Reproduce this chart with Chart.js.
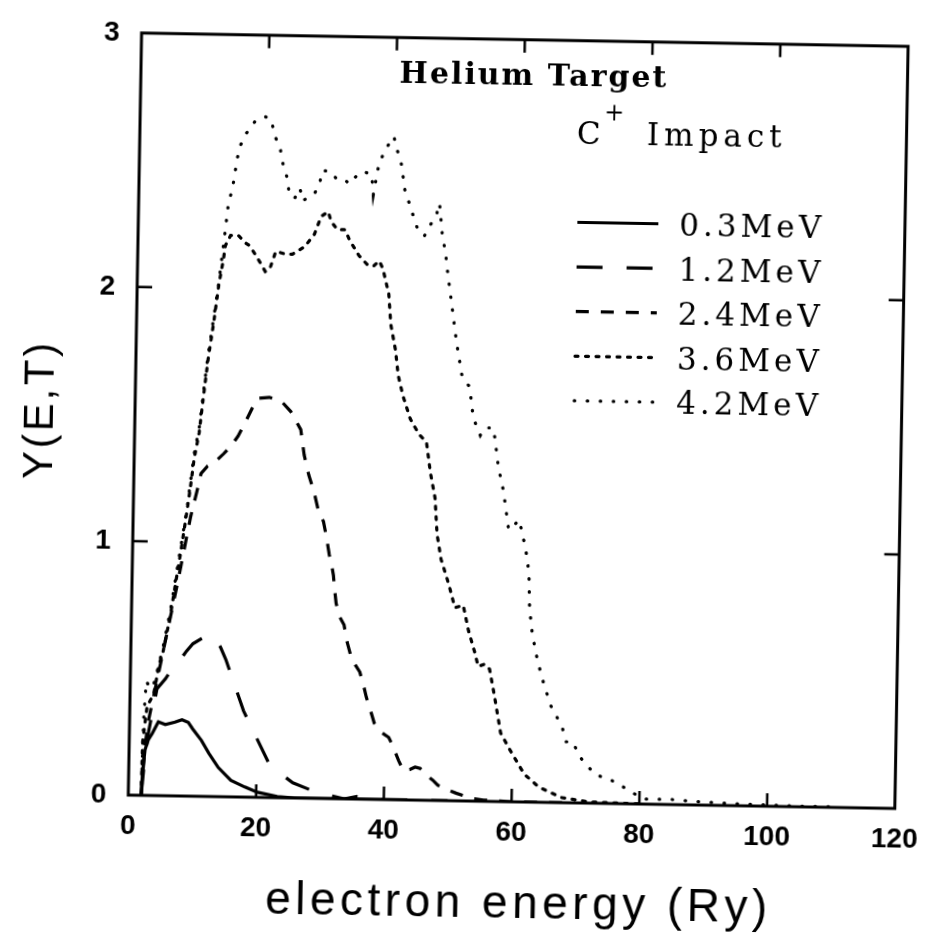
<!DOCTYPE html>
<html lang="en">
<head>
<meta charset="UTF-8">
<title>Helium Target - C+ Impact</title>
<script src="https://cdn.jsdelivr.net/npm/chart.js"></script>
<style>
  html, body { margin: 0; padding: 0; background: #fff; overflow: hidden; }
  #wrap { width: 938px; height: 942px; transform: rotate(1deg); }
</style>
</head>
<body>
<div id="wrap"><canvas id="yieldChart" width="938" height="942"></canvas></div>
<script>
// axis ticks
const energyTicks = [0, 20, 40, 60, 80, 100, 120];
const yieldTicks = [0, 1, 2, 3];

const seriesLabels = ['0.3MeV', '1.2MeV', '2.4MeV', '3.6MeV', '4.2MeV'];

// 0.3 MeV
const e03 = [2.0, 2.2, 2.5, 3.0, 3.6, 4.5, 5.6, 7.1, 8.2, 9.2, 9.9, 11.3, 12.5, 14.0, 16.0, 18.2, 20.2, 23.3, 26.0, 32.0, 40.0];
const y03 = [0.0, 0.10, 0.18, 0.22, 0.245, 0.29, 0.28, 0.29, 0.30, 0.29, 0.265, 0.22, 0.17, 0.115, 0.065, 0.04, 0.02, 0.005, 0.0, 0.0, 0.0];

// 1.2 MeV
const e12 = [2.0, 2.5, 3.0, 4.2, 5.5, 6.5, 7.6, 8.7, 9.7, 11.0, 12.0, 13.0, 14.0, 14.9, 16.5, 17.8, 19.9, 21.8, 23.5, 25.7, 29.3, 33.8, 35.8, 40.0, 50.0];
const y12 = [0.0, 0.15, 0.25, 0.42, 0.46, 0.50, 0.53, 0.57, 0.60, 0.62, 0.635, 0.63, 0.59, 0.54, 0.43, 0.34, 0.235, 0.14, 0.10, 0.06, 0.025, 0.0, 0.01, 0.0, 0.0];

// 2.4 MeV
const e24 = [2.0, 2.5, 3.0, 4.0, 5.0, 6.0, 7.0, 8.0, 9.0, 10.0,
  10.5, 11.5, 12.8, 14.0, 15.1, 16.2, 17.2, 18.7, 19.2, 21.0,
  22.9, 24.4, 26.0, 26.6, 27.4, 28.2, 29.0, 29.8, 30.3, 30.8,
  31.2, 31.5, 31.7, 32.0, 32.5, 33.3, 33.8, 34.6, 35.9, 36.5,
  37.0, 37.8, 38.3, 39.1, 40.6, 41.3, 42.2, 43.0, 44.0, 44.8,
  45.6, 46.5, 47.6, 48.4, 50.2, 51.3, 53.8, 55.6, 60.0, 70.0];
const y24 = [0.0, 0.20, 0.30, 0.43, 0.56, 0.69, 0.82, 0.96, 1.10, 1.21,
  1.27, 1.30, 1.32, 1.35, 1.38, 1.42, 1.47, 1.55, 1.57, 1.575,
  1.56, 1.52, 1.45, 1.35, 1.27, 1.21, 1.13, 1.09, 1.03, 0.96,
  0.92, 0.88, 0.83, 0.77, 0.72, 0.685, 0.62, 0.55, 0.50, 0.45,
  0.40, 0.34, 0.30, 0.27, 0.245, 0.21, 0.155, 0.115, 0.12, 0.13,
  0.125, 0.10, 0.08, 0.06, 0.04, 0.03, 0.01, 0.005, 0.0, 0.0];

// 3.6 MeV
const e36 = [2.0, 2.1, 2.7, 3.7, 4.5, 5.0, 6.1, 6.9, 7.6, 8.4,
  8.9, 9.4, 10.1, 10.7, 11.3, 12.1, 12.8, 13.4, 13.7, 14.5,
  15.7, 16.9, 17.5, 18.3, 19.3, 20.0, 20.7, 21.6, 23.1, 24.2,
  26.1, 27.6, 28.6, 29.7, 30.2, 31.2, 32.4, 33.1, 34.6, 36.1,
  37.0, 37.8, 38.4, 39.4, 39.8, 40.6, 41.1, 41.9, 43.1, 44.5,
  45.7, 46.4, 47.2, 47.6, 48.3, 49.6, 50.6, 51.9, 52.8, 53.9,
  54.4, 55.4, 56.2, 57.0, 58.1, 59.7, 61.9, 64.2, 67.8, 72.0,
  80.0];
const y36 = [0.0, 0.21, 0.35, 0.40, 0.52, 0.56, 0.71, 0.85, 0.97, 1.12,
  1.22, 1.33, 1.43, 1.58, 1.72, 1.87, 2.02, 2.11, 2.17, 2.21,
  2.21, 2.18, 2.17, 2.14, 2.10, 2.07, 2.08, 2.15, 2.14, 2.14,
  2.17, 2.22, 2.29, 2.31, 2.27, 2.24, 2.24, 2.20, 2.14, 2.10,
  2.10, 2.12, 2.09, 1.99, 1.87, 1.77, 1.67, 1.59, 1.50, 1.44,
  1.41, 1.29, 1.19, 1.05, 0.95, 0.85, 0.76, 0.77, 0.67, 0.58,
  0.53, 0.54, 0.52, 0.42, 0.27, 0.20, 0.11, 0.06, 0.02, 0.005,
  0.0];

// 4.2 MeV
const e42 = [2.0, 2.2, 2.5, 3.2, 3.7, 4.1, 5.0, 6.1, 6.9, 7.6,
  8.4, 8.9, 9.4, 10.1, 10.7, 11.3, 12.1, 12.8, 13.3, 13.6,
  14.0, 14.8, 15.3, 15.7, 16.6, 18.0, 19.5, 20.5, 21.2, 22.0,
  22.3, 23.3, 23.5, 24.4, 25.2, 25.7, 26.7, 27.5, 28.3, 28.6,
  29.8, 30.9, 32.1, 32.9, 34.3, 35.0, 36.4, 36.7, 37.5, 38.5,
  39.8, 40.1, 40.9, 41.7, 42.5, 43.0, 43.7, 44.8, 45.6, 46.6,
  47.1, 47.6, 48.2, 48.6, 49.3, 50.1, 51.1, 52.3, 52.9, 53.4,
  54.1, 54.8, 56.1, 56.4, 57.0, 57.9, 58.8, 60.5, 60.8, 61.3,
  61.7, 62.1, 62.3, 62.8, 63.7, 64.8, 65.9, 66.8, 67.8, 68.4,
  69.5, 70.3, 71.6, 73.2, 74.9, 77.2, 79.2, 80.7, 85.0, 90.0,
  95.0, 100.0, 105.0, 110.0];
const y42 = [0.0, 0.30, 0.45, 0.42, 0.44, 0.48, 0.58, 0.73, 0.87, 0.99,
  1.13, 1.24, 1.35, 1.45, 1.60, 1.74, 1.89, 2.03, 2.15, 2.22,
  2.32, 2.42, 2.51, 2.56, 2.61, 2.66, 2.68, 2.67, 2.60, 2.56,
  2.51, 2.43, 2.38, 2.36, 2.40, 2.35, 2.37, 2.38, 2.42, 2.47,
  2.47, 2.44, 2.44, 2.42, 2.46, 2.47, 2.46, 2.38, 2.50, 2.56,
  2.61, 2.57, 2.52, 2.39, 2.34, 2.30, 2.25, 2.22, 2.26, 2.30,
  2.35, 2.23, 2.15, 2.07, 1.95, 1.81, 1.67, 1.63, 1.52, 1.48,
  1.44, 1.47, 1.47, 1.43, 1.32, 1.22, 1.07, 1.11, 1.07, 1.02,
  0.97, 0.90, 0.76, 0.66, 0.555, 0.46, 0.38, 0.34, 0.29, 0.24,
  0.24, 0.19, 0.15, 0.11, 0.10, 0.07, 0.04, 0.02, 0.02, 0.012,
  0.008, 0.005, 0.003, 0.002];

const toPoints = (xs, ys) => xs.map((x, i) => ({ x: x, y: ys[i] }));

function curve(label, xs, ys, dash, cap) {
  return {
    label: label,
    data: toPoints(xs, ys),
    borderColor: '#000',
    borderWidth: 3.2,
    borderDash: dash,
    borderCapStyle: cap || 'butt',
    pointRadius: 0,
    tension: 0,
    fill: false
  };
}

const datasets = [
  curve(seriesLabels[0], e03, y03, []),
  curve(seriesLabels[1], e12, y12, [26, 24]),
  curve(seriesLabels[2], e24, y24, [13, 12]),
  curve(seriesLabels[3], e36, y36, [3, 7.5], 'round'),
  curve(seriesLabels[4], e42, y42, [0.5, 12.5], 'round')
];

// box with inward tick marks on all four sides
const framePlugin = {
  id: 'frame',
  afterDatasetsDraw(chart) {
    const { ctx, chartArea: a, scales } = chart;
    const x = scales.x, y = scales.y;
    ctx.save();
    ctx.strokeStyle = '#000';
    ctx.lineWidth = 3;
    ctx.setLineDash([]);
    ctx.strokeRect(a.left, a.top, a.right - a.left, a.bottom - a.top);
    ctx.lineWidth = 2.5;
    ctx.beginPath();
    energyTicks.slice(1, -1).forEach(v => {
      const px = x.getPixelForValue(v);
      ctx.moveTo(px, a.bottom); ctx.lineTo(px, a.bottom - 13);
      ctx.moveTo(px, a.top); ctx.lineTo(px, a.top + 13);
    });
    yieldTicks.slice(1, -1).forEach(v => {
      const py = y.getPixelForValue(v);
      ctx.moveTo(a.left, py); ctx.lineTo(a.left + 15, py);
      ctx.moveTo(a.right, py); ctx.lineTo(a.right - 15, py);
    });
    ctx.stroke();
    ctx.restore();
  }
};

// titles, legend and axis captions
const textPlugin = {
  id: 'captions',
  afterDraw(chart) {
    const ctx = chart.ctx;
    ctx.save();
    ctx.fillStyle = '#000';
    ctx.textBaseline = 'alphabetic';

    ctx.font = 'bold 30px "DejaVu Serif", serif';
    ctx.letterSpacing = '2px';
    ctx.textAlign = 'center';
    ctx.fillText('Helium Target', 527, 84);

    ctx.textAlign = 'left';
    ctx.font = '31px "DejaVu Serif", serif';
    ctx.letterSpacing = '0px';
    ctx.fillText('C', 571, 142);
    ctx.font = '24px "DejaVu Serif", serif';
    ctx.fillText('+', 598, 118);
    ctx.font = '31px "DejaVu Serif", serif';
    ctx.letterSpacing = '5px';
    ctx.fillText('Impact', 641, 142);

    // legend rows
    ctx.letterSpacing = '4px';
    chart.data.datasets.forEach((ds, i) => {
      const cy = 220.5 + i * 44.6;
      ctx.save();
      ctx.strokeStyle = ds.borderColor;
      ctx.lineWidth = ds.borderWidth;
      ctx.lineCap = ds.borderCapStyle;
      ctx.setLineDash(ds.borderDash);
      ctx.beginPath();
      ctx.moveTo(573, cy);
      ctx.lineTo(654, cy);
      ctx.stroke();
      ctx.restore();
      ctx.fillText(ds.label, 675, cy + 11.5);
    });

    // axis captions
    ctx.font = '46px "Liberation Sans", Arial, sans-serif';
    ctx.letterSpacing = '4.5px';
    ctx.textAlign = 'center';
    ctx.textBaseline = 'middle';
    ctx.fillText('electron energy (Ry)', 526, 904);

    ctx.translate(40, 417);
    ctx.rotate(-Math.PI / 2);
    ctx.font = '42px "Liberation Sans", Arial, sans-serif';
    ctx.letterSpacing = '3px';
    ctx.fillText('Y(E,T)', 0, 0);
    ctx.restore();
  }
};

const tickFont = { family: '"Liberation Sans", Arial, sans-serif', size: 28, weight: 'bold' };

new Chart(document.getElementById('yieldChart'), {
  type: 'line',
  data: { datasets: datasets },
  options: {
    responsive: false,
    animation: false,
    devicePixelRatio: 1,
    layout: { padding: { top: 31, right: 25, left: 0, bottom: 0 } },
    scales: {
      x: {
        type: 'linear',
        min: 0,
        max: 120,
        afterBuildTicks: s => { s.ticks = energyTicks.map(v => ({ value: v })); },
        afterFit: s => { s.height = 141; },
        grid: { display: false, drawTicks: false },
        border: { display: false },
        ticks: { color: '#000', font: tickFont, padding: 14 }
      },
      y: {
        type: 'linear',
        min: 0,
        max: 3,
        afterBuildTicks: s => { s.ticks = yieldTicks.map(v => ({ value: v })); },
        afterFit: s => { s.width = 134; },
        grid: { display: false, drawTicks: false },
        border: { display: false },
        ticks: { color: '#000', font: tickFont, padding: 22 }
      }
    },
    plugins: {
      legend: { display: false },
      tooltip: { enabled: false }
    }
  },
  plugins: [framePlugin, textPlugin]
});
</script>
</body>
</html>
